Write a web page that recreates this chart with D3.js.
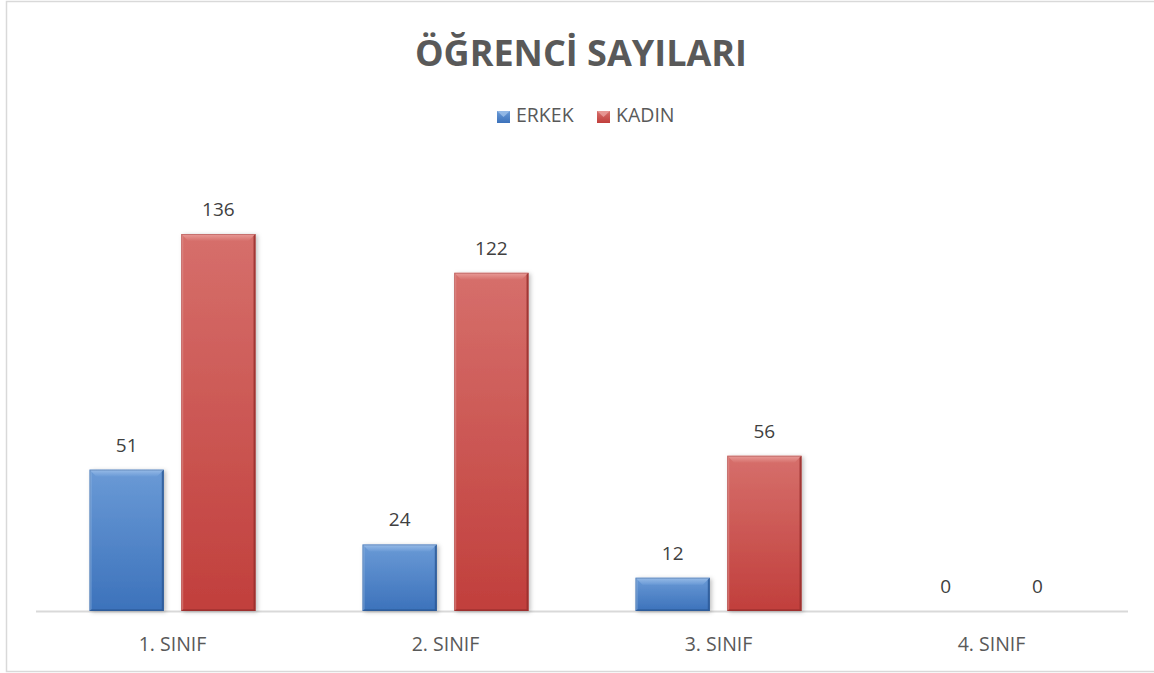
<!DOCTYPE html>
<html><head><meta charset="utf-8">
<script src="https://cdn.jsdelivr.net/npm/d3@7"></script>
<style>body{margin:0;background:#fff;}svg{display:block;font-family:"Open Sans",sans-serif;}</style>
</head><body>
<svg id="c" width="1154" height="673"></svg>
<script>
const categories = ["1. SINIF","2. SINIF","3. SINIF","4. SINIF"];
const seriesNames = ["ERKEK","KADIN"];
const erkek = [51,24,12,0];
const kadin = [136,122,56,0];
const title = "ÖĞRENCİ SAYILARI";

const svg = d3.select("#c");
const base = 611;

// chart border
svg.append("rect").attr("x",6.5).attr("y",1.5).attr("width",1160).attr("height",670)
  .attr("fill","none").attr("stroke","#d9d9d9").attr("stroke-width",1.5);

const x0 = d3.scaleBand().domain(categories).range([36,1128]).padding(0);
const x1 = d3.scaleBand().domain(seriesNames).paddingInner(0.19);
const y = d3.scaleLinear().domain([0,160]).range([base, base-160*2.772]);

const colors = {
  ERKEK:{top:"#6a9ad6",bot:"#3c72bb",light:"#9ec0ea",dark:"#2c5a98",edge:"#274f88"},
  KADIN:{top:"#d66f6b",bot:"#c13f3c",light:"#eba19e",dark:"#9a2f2d",edge:"#8a2927"}
};

const defs = svg.append("defs");
seriesNames.forEach(s=>{
  const g = defs.append("linearGradient").attr("id","g"+s).attr("x1",0).attr("y1",0).attr("x2",0).attr("y2",1);
  g.append("stop").attr("offset","0%").attr("stop-color",colors[s].top);
  g.append("stop").attr("offset","100%").attr("stop-color",colors[s].bot);
  const gt = defs.append("linearGradient").attr("id","gt"+s).attr("x1",0).attr("y1",0).attr("x2",0).attr("y2",1);
  gt.append("stop").attr("offset","0%").attr("stop-color",colors[s].light);
  gt.append("stop").attr("offset","100%").attr("stop-color",colors[s].top);
});
const f = defs.append("filter").attr("id","sh").attr("x","-20%").attr("y","-20%").attr("width","150%").attr("height","150%");
f.append("feDropShadow").attr("dx",2).attr("dy",1).attr("stdDeviation",2).attr("flood-color","#000").attr("flood-opacity",0.25);

// baseline
svg.append("line").attr("x1",36).attr("x2",1128).attr("y1",base+0.5).attr("y2",base+0.5)
  .attr("stroke","#d9d9d9").attr("stroke-width",2);

const data = categories.map((c,i)=>({cat:c, vals:[{s:"ERKEK",v:erkek[i]},{s:"KADIN",v:kadin[i]}]}));

const groups = svg.append("g").selectAll("g").data(data).join("g");
groups.each(function(d){
  const g = d3.select(this);
  const cx = x0(d.cat) + x0.bandwidth()/2;
  x1.range([cx-83, cx+83]);
  d.vals.forEach(p=>{
    const bx = x1(p.s), bw = x1.bandwidth();
    const by = y(p.v), bh = base - by;
    if (bh > 0) {
      const b = g.append("g");
      const c = colors[p.s];
      const bv = Math.min(7, bh/2);
      b.append("rect").attr("x",bx).attr("y",by).attr("width",bw).attr("height",bh)
        .attr("fill","url(#g"+p.s+")").attr("filter","url(#sh)");
      b.append("polygon").attr("points",[[bx,by],[bx+bw,by],[bx+bw-bv,by+bv],[bx+bv,by+bv]].join(" "))
        .attr("fill","url(#gt"+p.s+")").attr("opacity",0.9);
      b.append("polygon").attr("points",[[bx,by],[bx+2,by+2],[bx+2,base-1],[bx,base]].join(" "))
        .attr("fill",c.light).attr("opacity",0.5);
      b.append("polygon").attr("points",[[bx+bw,by],[bx+bw-2,by+2],[bx+bw-2,base-1],[bx+bw,base]].join(" "))
        .attr("fill",c.dark).attr("opacity",0.8);
      b.append("polygon").attr("points",[[bx,base],[bx+2,base-2],[bx+bw-2,base-2],[bx+bw,base]].join(" "))
        .attr("fill",c.dark).attr("opacity",0.6);
      b.append("rect").attr("x",bx+0.5).attr("y",by+0.5).attr("width",bw-1).attr("height",bh-1)
        .attr("fill","none").attr("stroke",c.edge).attr("stroke-opacity",0.35);
    }
    g.append("text").attr("x",bx+bw/2).attr("y",by-18).attr("text-anchor","middle")
      .attr("font-size",19).attr("fill","#404040").text(p.v);
  });
});

// x axis labels
const xa = svg.append("g").attr("transform",`translate(0,${base})`)
  .call(d3.axisBottom(x0).tickSize(0));
xa.select(".domain").remove();
xa.selectAll("text").attr("y",40).attr("dy",0).attr("font-size",19.5).attr("fill","#595959")
  .attr("font-family","'Open Sans',sans-serif");

// title
svg.append("text").attr("x",581).attr("y",66).attr("text-anchor","middle")
  .attr("font-size",36).attr("font-weight","bold").attr("fill","#595959").text(title);

// legend
const leg = svg.append("g");
const legItems = [{s:"ERKEK",x:497},{s:"KADIN",x:597}];
legItems.forEach(it=>{
  const c = colors[it.s];
  leg.append("rect").attr("x",it.x).attr("y",111).attr("width",13).attr("height",12)
    .attr("fill","url(#g"+it.s+")");
  leg.append("polygon").attr("points",[[it.x,111],[it.x+13,111],[it.x+6.5,117]].join(" ")).attr("fill",c.light).attr("opacity",0.8);
  leg.append("text").attr("x",it.x+19).attr("y",122).attr("font-size",19.5).attr("fill","#595959").text(it.s);
});
</script>
</body></html>
